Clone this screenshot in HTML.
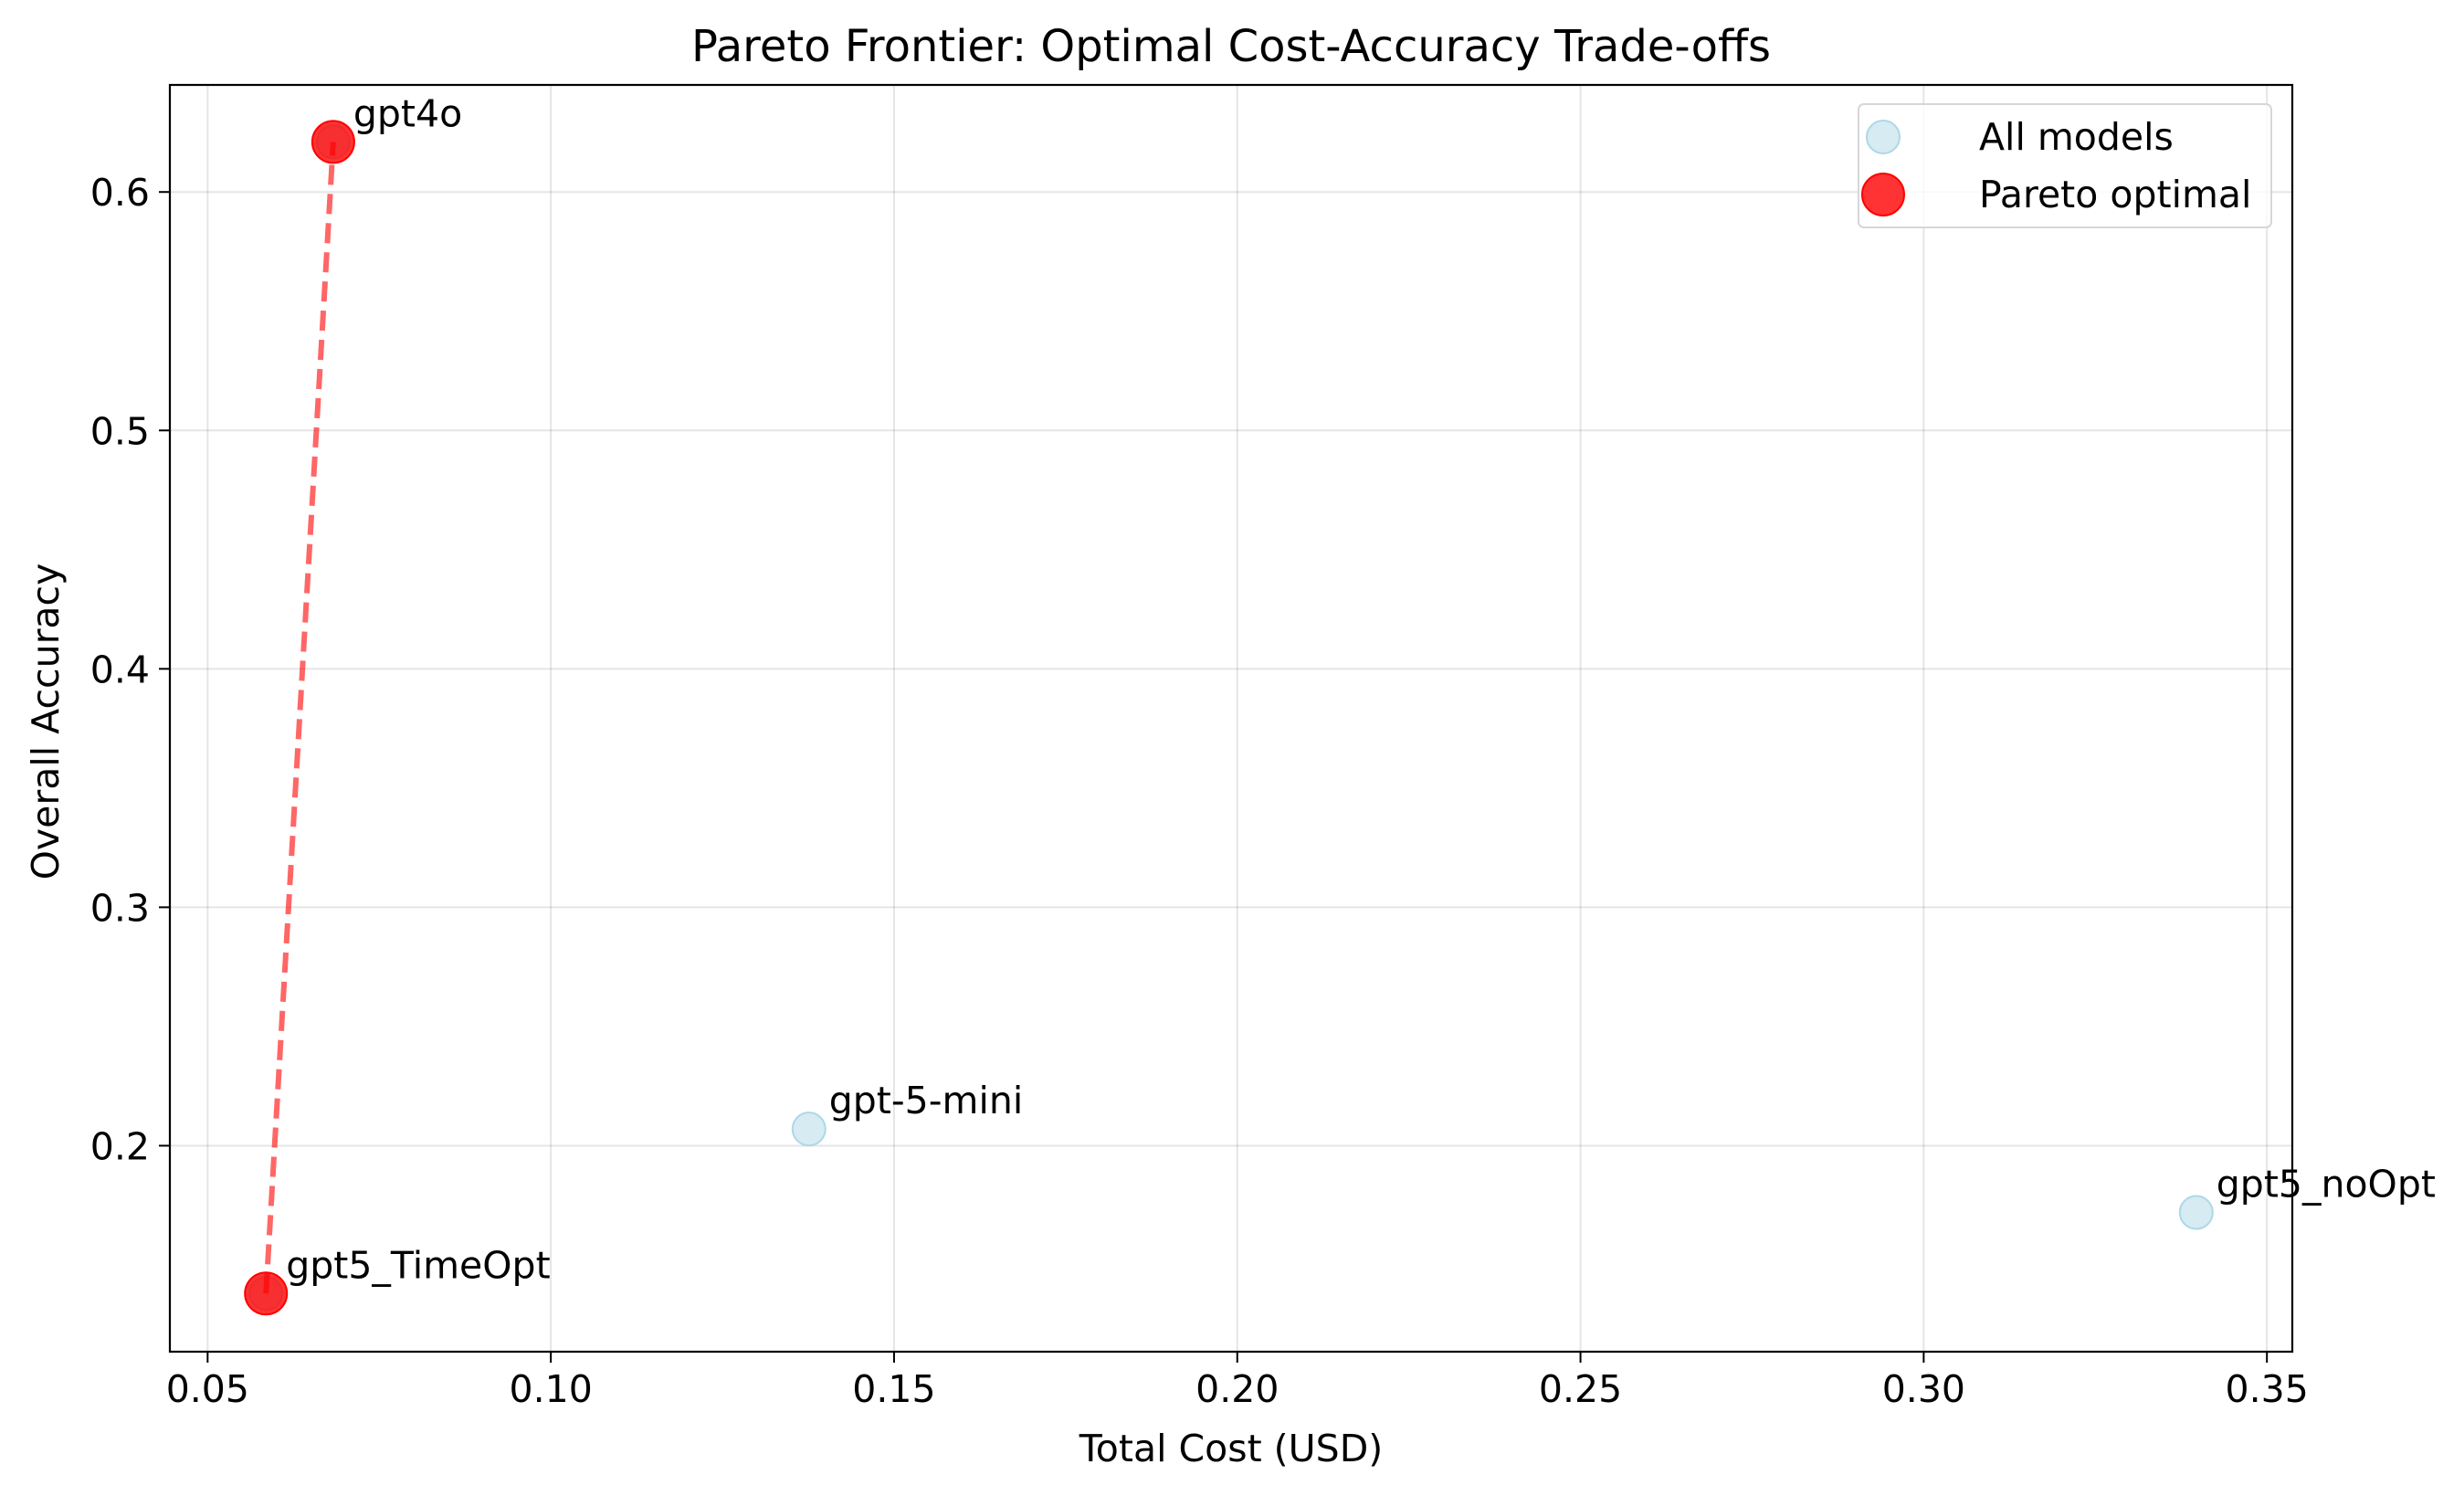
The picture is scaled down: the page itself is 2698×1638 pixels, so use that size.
<!DOCTYPE html>
<html><head><meta charset="utf-8"><style>
html,body{margin:0;padding:0;background:#fff;}
svg{display:block;font-family:"DejaVu Sans","Liberation Sans",sans-serif;}
</style></head><body>
<svg id="chart" width="2698" height="1638" viewBox="0 0 2698 1638" xmlns="http://www.w3.org/2000/svg">
<rect width="2698" height="1638" fill="#fff"/>
<text x="1348" y="67" font-size="48" text-anchor="middle">Pareto Frontier: Optimal Cost-Accuracy Trade-offs</text>
<g id="grid"></g>
<g id="frontier"></g>
<g id="points"></g>
<g id="labels"></g>
<rect x="186" y="93" width="2324" height="1387" fill="none" stroke="#000" stroke-width="2.2"/>
<g id="xticks"></g>
<g id="yticks"></g>
<text x="1348" y="1600" font-size="41" text-anchor="middle">Total Cost (USD)</text>
<text x="64" y="790" font-size="41" text-anchor="middle" transform="rotate(-90 64 790)">Overall Accuracy</text>
<g>
<rect x="2035" y="114" width="452" height="135" rx="6" fill="#fff" fill-opacity="0.8" stroke="#d6d6d6" stroke-width="2"/>
<circle cx="2062" cy="150" r="18" fill="lightblue" fill-opacity="0.5" stroke="#add8e6" stroke-width="2"/>
<text x="2167" y="164" font-size="41">All models</text>
<circle cx="2062" cy="213" r="23" fill="red" fill-opacity="0.8" stroke="red" stroke-width="2"/>
<text x="2167" y="227" font-size="41">Pareto optimal</text>
</g>
</svg>
<script>
const models = ["gpt4o", "gpt5_TimeOpt", "gpt-5-mini", "gpt5_noOpt"];
const costs = [0.0683, 0.0585, 0.1376, 0.3397];
const accuracies = [0.621, 0.138, 0.207, 0.172];
const paretoModels = ["gpt5_TimeOpt", "gpt4o"];
const xTickValues = [0.05, 0.10, 0.15, 0.20, 0.25, 0.30, 0.35];
const xTickLabels = ["0.05", "0.10", "0.15", "0.20", "0.25", "0.30", "0.35"];
const yTickValues = [0.2, 0.3, 0.4, 0.5, 0.6];
const yTickLabels = ["0.2", "0.3", "0.4", "0.5", "0.6"];

const L=186,R=2510,T=93,B=1480, x0=0.0445,x1=0.3537,y0=0.1136,y1=0.6449;
const sx=v=>L+(v-x0)/(x1-x0)*(R-L);
const sy=v=>B-(v-y0)/(y1-y0)*(B-T);
const NS="http://www.w3.org/2000/svg";
function mk(tag,attrs,parent,text){const e=document.createElementNS(NS,tag);for(const k in attrs)e.setAttribute(k,attrs[k]);if(text!==undefined)e.textContent=text;parent.appendChild(e);return e;}
const grid=document.getElementById('grid'),xt=document.getElementById('xticks'),yt=document.getElementById('yticks');
xTickValues.forEach((v,i)=>{const X=sx(v);
 const g=mk('line',{x1:X,x2:X,y1:T,y2:B,stroke:'#000','stroke-opacity':0.1,'stroke-width':2},grid);
 
 
 const t=mk('line',{x1:X,x2:X,y1:B,y2:B+12,stroke:'#000','stroke-width':2},xt);
 
 
 const l=mk('text',{x:X,y:B+55,'font-size':41,'text-anchor':'middle'},xt,xTickLabels[i]);
 
 
});
yTickValues.forEach((v,i)=>{const Y=sy(v);
 const g=mk('line',{x1:L,x2:R,y1:Y,y2:Y,stroke:'#000','stroke-opacity':0.1,'stroke-width':2},grid);
 
 
 const t=mk('line',{x1:L-12,x2:L,y1:Y,y2:Y,stroke:'#000','stroke-width':2},yt);
 
 
 const l=mk('text',{x:L-22,y:Y+15,'font-size':41,'text-anchor':'end'},yt,yTickLabels[i]);
 
 
});
const pts=document.getElementById('points'),lab=document.getElementById('labels'),fr=document.getElementById('frontier');
models.forEach((m,i)=>{
 const c=mk('circle',{cx:sx(costs[i]),cy:sy(accuracies[i]),r:18,fill:'lightblue','fill-opacity':0.5,stroke:'#add8e6','stroke-width':2},pts);
 
 
 const t=mk('text',{x:sx(costs[i])+22,y:sy(accuracies[i])-17,'font-size':41},lab,m);
 
 
});
const pp=paretoModels.map(m=>models.indexOf(m));
const line=mk('polyline',{points:pp.map(i=>sx(costs[i])+','+sy(accuracies[i])).join(' '),fill:'none',stroke:'red','stroke-opacity':0.6,'stroke-width':6,'stroke-dasharray':'22 10'},fr);


pp.forEach(i=>{
 const c=mk('circle',{cx:sx(costs[i]),cy:sy(accuracies[i]),r:23,fill:'red','fill-opacity':0.8,stroke:'red','stroke-width':2},pts);
 
 
});
pts.parentNode.insertBefore(fr,lab);
</script>
</body></html>
